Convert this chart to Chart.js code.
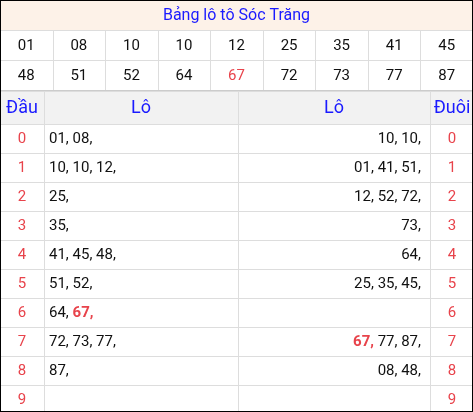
<!DOCTYPE html>
<html><head><meta charset="utf-8">
<script src="https://cdn.jsdelivr.net/npm/chart.js@4"></script>
<style>html,body{margin:0;padding:0;background:#fff}#c{display:block}</style>
</head><body>
<div style="width:473px;height:412px"><canvas id="c"></canvas></div>
<script>
const title = 'Bảng lô tô Sóc Trăng';
const numbers = ['01','08','10','10','12','25','35','41','45','48','51','52','64','67','72','73','77','87'];
const highlight = ['67'];
const heads = ['0','1','2','3','4','5','6','7','8','9'];
const dauLo = [['01','08'],['10','10','12'],['25'],['35'],['41','45','48'],['51','52'],['64','67'],['72','73','77'],['87'],[]];
const duoiLo = [['10','10'],['01','41','51'],['12','52','72'],['73'],['64'],['25','35','45'],[],['67','77','87'],['08','48'],[]];

const W = 473, H = 412;
const FONT = '"Roboto", "Noto Sans", sans-serif';
const FS = 15;

const tablePlugin = {
  id: 'table',
  afterDraw(chart) {
    const ctx = chart.ctx, xs = chart.scales.x, ys = chart.scales.y;
    const X = v => xs.getPixelForValue(v), Y = v => ys.getPixelForValue(v);
    const line = (x1, y1, x2, y2, c) => {
      ctx.strokeStyle = c; ctx.lineWidth = 1; ctx.beginPath();
      ctx.moveTo(X(x1), Y(y1)); ctx.lineTo(X(x2), Y(y2)); ctx.stroke();
    };
    const text = (t, x, y, color, align, size, bold) => {
      ctx.fillStyle = color; ctx.textAlign = align || 'center'; ctx.textBaseline = 'middle';
      ctx.font = (bold ? 'bold ' : '') + (size || FS) + 'px ' + FONT;
      ctx.fillText(t, X(x), Y(y));
    };
    const grid = '#dddddd';
    ctx.save();
    // title
    ctx.fillStyle = '#fdf2e8'; ctx.fillRect(X(0), Y(0), X(W) - X(0), Y(30) - Y(0));
    text(title, W / 2, 16, '#1a1aff', 'center', 16);
    line(0, 30.5, W, 30.5, grid);
    // number rows
    const cw = W / 9;
    numbers.forEach((n, i) => {
      const r = Math.floor(i / 9), c = i % 9;
      text(n, cw * c + cw / 2, 46 + r * 30, highlight.includes(n) ? '#e8434b' : '#111', 'center', FS);
    });
    line(0, 60.5, W, 60.5, grid);
    for (let c = 1; c < 9; c++) line(Math.round(cw * c) + 0.5, 30, Math.round(cw * c) + 0.5, 90, grid);
    // header
    ctx.fillStyle = '#f2f2f2'; ctx.fillRect(X(0), Y(90), X(W) - X(0), Y(124) - Y(90));
    line(0, 90.5, W, 90.5, '#cccccc');
    line(0, 91.5, W, 91.5, grid);
    const cols = [0, 44, 238, 430, W];
    text('Đầu', 22, 108, '#1a1aff', 'center', 18);
    text('Lô', 141, 108, '#1a1aff', 'center', 18);
    text('Lô', 334, 108, '#1a1aff', 'center', 18);
    text('Đuôi', 452, 108, '#1a1aff', 'center', 18);
    const rh = 29, top = 124;
    for (let r = 0; r <= heads.length; r++) line(0, top + r * rh + 0.5, W, top + r * rh + 0.5, grid);
    for (let c = 1; c < 4; c++) line(cols[c] + 0.5, 91, cols[c] + 0.5, H, grid);
    heads.forEach((h, r) => {
      const cy = top + r * rh + rh / 2 + 1;
      text(h, 22, cy, '#e8434b', 'center', FS);
      text(h, 452, cy, '#e8434b', 'center', FS);
      // left column, bold red for highlighted numbers
      let x = 49;
      dauLo[r].forEach(n => {
        const hl = highlight.includes(n);
        ctx.font = (hl ? 'bold ' : '') + FS + 'px ' + FONT;
        const s = n + ', ';
        text(s, x, cy, hl ? '#e8434b' : '#111', 'left', FS, hl);
        x += ctx.measureText(s).width;
      });
      // right column, right aligned
      let xr = 421;
      [...duoiLo[r]].reverse().forEach((n, k) => {
        const hl = highlight.includes(n);
        ctx.font = (hl ? 'bold ' : '') + FS + 'px ' + FONT;
        const s = k === 0 ? n + ',' : n + ', ';
        text(s, xr, cy, hl ? '#e8434b' : '#111', 'right', FS, hl);
        xr -= ctx.measureText(s).width;
      });
    });
    // outer border
    ctx.strokeStyle = '#000'; ctx.lineWidth = 1;
    ctx.strokeRect(X(0) + 0.5, Y(0) + 0.5, X(W) - X(0) - 1, Y(H) - Y(0) - 1);
    ctx.restore();
  }
};

new Chart(document.getElementById('c'), {
  type: 'scatter',
  data: { datasets: [{ data: [] }] },
  options: {
    responsive: true, maintainAspectRatio: false, animation: false,
    layout: { padding: 0 },
    scales: {
      x: { type: 'linear', min: 0, max: W, display: false },
      y: { type: 'linear', min: 0, max: H, reverse: true, display: false }
    },
    plugins: { legend: { display: false }, tooltip: { enabled: false } }
  },
  plugins: [tablePlugin]
});
</script>
</body></html>
